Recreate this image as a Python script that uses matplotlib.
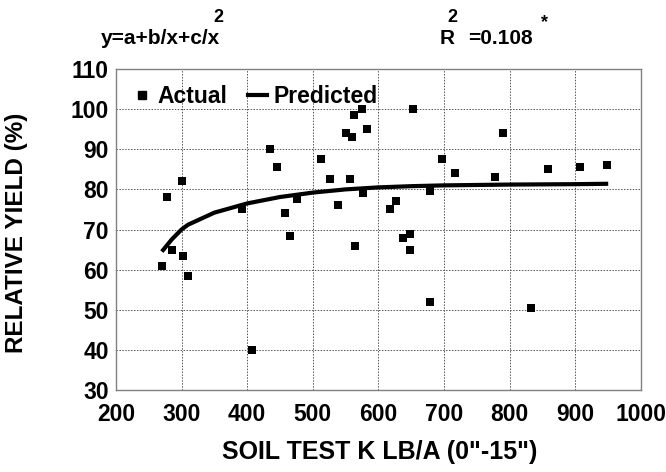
import matplotlib
matplotlib.use("Agg")
import matplotlib.pyplot as plt
from matplotlib.lines import Line2D

plt.rcParams["font.family"] = ["Liberation Sans", "DejaVu Sans"]
plt.rcParams["font.weight"] = "bold"

# ---- data ----
actual_x = [270, 278, 285, 300, 303, 310, 392, 407, 435, 445, 458, 465, 476,
            513, 526, 538, 550, 560, 557, 564, 563, 575, 582, 577,
            653, 790, 697, 717, 777, 858, 907, 948, 678, 627, 618, 638,
            648, 648, 678, 832]
actual_y = [61, 78, 65, 82, 63.5, 58.5, 75, 40, 90, 85.5, 74, 68.5, 77.5,
            87.5, 82.5, 76, 94, 93, 82.5, 66, 98.5, 100, 95, 79,
            100, 94, 87.5, 84, 83, 85, 85.5, 86, 79.5, 77, 75, 68,
            69, 65, 52, 50.5]

pred_x = [270, 285, 300, 310, 350, 400, 450, 500, 550, 600, 650, 700, 800, 900, 950]
pred_y = [64.5, 67.5, 70, 71.2, 74.2, 76.5, 78.1, 79.2, 80, 80.5, 80.8, 81, 81.2, 81.3, 81.4]

xticks = [200, 300, 400, 500, 600, 700, 800, 900, 1000]
yticks = [30, 40, 50, 60, 70, 80, 90, 100, 110]

fig = plt.figure(figsize=(6.66, 4.72), dpi=100)
ax = fig.add_axes([0.174, 0.1737, 0.7885, 0.6801])

ax.plot(pred_x, pred_y, color="black", lw=3, solid_capstyle="butt", zorder=3)
ax.scatter(actual_x, actual_y, marker="s", s=38, color="black", lw=0, zorder=4)

ax.set_xlim(200, 1000)
ax.set_ylim(30, 110)
ax.set_xticks(xticks)
ax.set_yticks(yticks)
ax.tick_params(length=0, labelsize=16.5, pad=5)
ax.tick_params(axis="x", pad=9)
for lab in ax.get_xticklabels() + ax.get_yticklabels():
    lab.set_fontweight("bold")
ax.grid(True, color="#555555", linestyle=(0, (1.5, 1.5)), linewidth=0.7)
ax.set_axisbelow(True)
for sp in ax.spines.values():
    sp.set_color("#808080")
    sp.set_linewidth(1)

ax.set_xlabel("SOIL TEST K LB/A (0\"-15\")", fontsize=18, fontweight="bold")
ax.set_ylabel("RELATIVE YIELD (%)", fontsize=17.5, fontweight="bold")
ax.xaxis.set_label_coords(0.502, -0.157)
ax.yaxis.set_label_coords(-0.167, 0.49)

# legend
handles = [Line2D([], [], marker="s", color="black", linestyle="none", markersize=5.5),
           Line2D([], [], color="black", lw=3)]
ax.legend(handles, ["Actual", "Predicted"], loc="upper left", ncol=2, frameon=False,
          prop={"size": 16.5, "weight": "bold"}, handlelength=0.8, handletextpad=0.3,
          columnspacing=0.9, borderaxespad=0.1, bbox_to_anchor=(0.01, 0.985))

# equation header
fig.text(0.152, 0.918, "y=a+b/x+c/x", fontsize=15, fontweight="bold", ha="left", va="center")
fig.text(0.328, 0.962, "2", fontsize=13, fontweight="bold", ha="center", va="center")
fig.text(0.660, 0.918, "R", fontsize=15, fontweight="bold", ha="left", va="center")
fig.text(0.679, 0.962, "2", fontsize=13, fontweight="bold", ha="center", va="center")
fig.text(0.703, 0.918, "=0.108", fontsize=15, fontweight="bold", ha="left", va="center")
fig.text(0.818, 0.952, "*", fontsize=13, fontweight="bold", ha="center", va="center")

fig.savefig("out.png", dpi=100)
